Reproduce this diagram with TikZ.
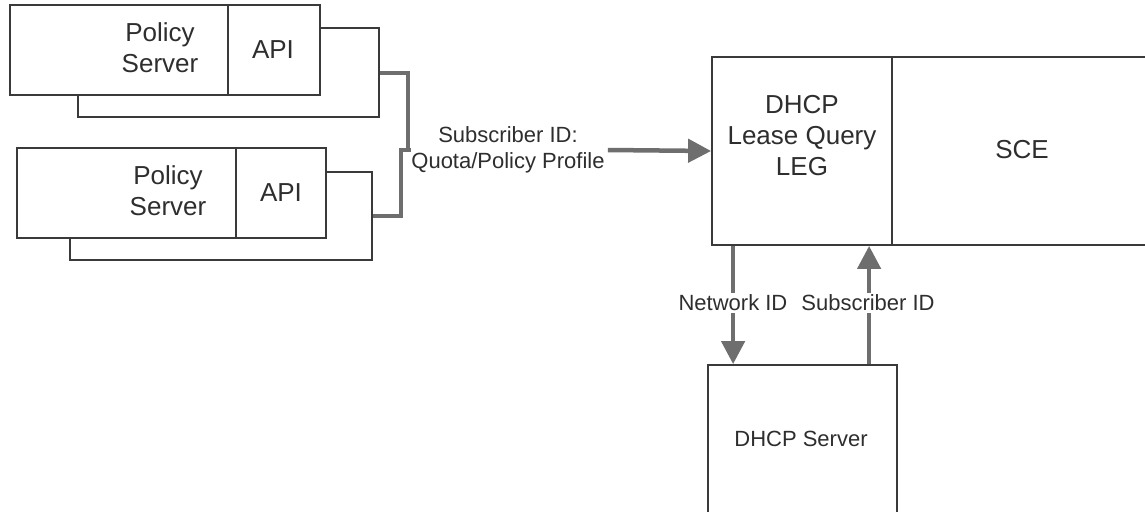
\documentclass[tikz,border=0pt]{standalone}
\usepackage{fontspec}
\setmainfont{Liberation Sans}
\usetikzlibrary{arrows.meta,calc}
\definecolor{edge}{HTML}{3A3A3A}
\definecolor{conn}{HTML}{6E6E6E}
\definecolor{ink}{HTML}{2E2E2E}
\tikzset{
  box/.style={draw=edge, line width=1.8pt, fill=white, inner sep=0pt},
  big/.style={text=ink, font=\fontsize{26}{31}\selectfont, align=center, inner sep=0pt},
  small/.style={text=ink, font=\fontsize{22}{26}\selectfont, align=center, inner sep=0pt},
  wire/.style={draw=conn, line width=4pt},
  flow/.style={draw=conn, line width=4.5pt, -{Triangle[length=23pt,width=23pt]}},
  lbl/.style={small, fill=white, inner sep=2pt}
}
\begin{document}
\begin{tikzpicture}[x=1pt,y=-1pt]
\clip (0,0) rectangle (1145,511);
\fill[white] (0,0) rectangle (1145,511);
% top policy server group
\node[box, minimum width=301pt, minimum height=89pt] (b1) at (228.5,72.5) {};
\node[box, minimum width=218pt, minimum height=90pt] (ps1) at (119,50) {};
\node[box, minimum width=92pt, minimum height=90pt] (api1) at (274,50) {};
\node[big] (ps1t) at (160,48) {Policy\\Server};
\node[big] (api1t) at (273,50) {API};
% bottom policy server group
\node[box, minimum width=302pt, minimum height=88pt] (b2) at (221,216) {};
\node[box, minimum width=219pt, minimum height=90pt] (ps2) at (126.5,193) {};
\node[box, minimum width=90pt, minimum height=90pt] (api2) at (281,193) {};
\node[big] (ps2t) at (168,191) {Policy\\Server};
\node[big] (api2t) at (281,193) {API};
% LEG and SCE
\node[box, minimum width=180pt, minimum height=188pt] (leg) at (802,151) {};
\node[big] (legt) at (802,136) {DHCP\\Lease Query\\LEG};
\node[box, minimum width=268pt, minimum height=188pt] (sce) at (1026,151) {};
\node[big] (scet) at (1022,150) {SCE};
% DHCP server
\node[box, minimum width=189pt, minimum height=148pt] (dhcp) at (802.5,439) {};
\node[small] (dhcpt) at (801,439) {DHCP Server};
% label between policy servers and LEG
\node[small] (q) at (508,150) {Subscriber ID:\\Quota/Policy Profile};
\coordinate (j) at (408,150);
\coordinate (k) at (401,150);
\draw[wire] (b1.east) -| (j) -- (q.west);
\draw[wire] (b2.east) -| (k) -- (j);
\draw[flow] ([xshift=3pt]q.east) -- (leg.west);
% arrows to/from DHCP server
\coordinate (na) at ($(leg.south west)+(22,0)$);
\coordinate (sa) at ($(leg.south west)+(158,0)$);
\draw[flow] (na) -- (na |- dhcp.north);
\draw[flow] (sa |- dhcp.north) -- (sa);
\node[lbl] (nl) at (733,303) {Network ID};
\node[lbl] (sl) at (868,303) {Subscriber ID};
\end{tikzpicture}
\end{document}
